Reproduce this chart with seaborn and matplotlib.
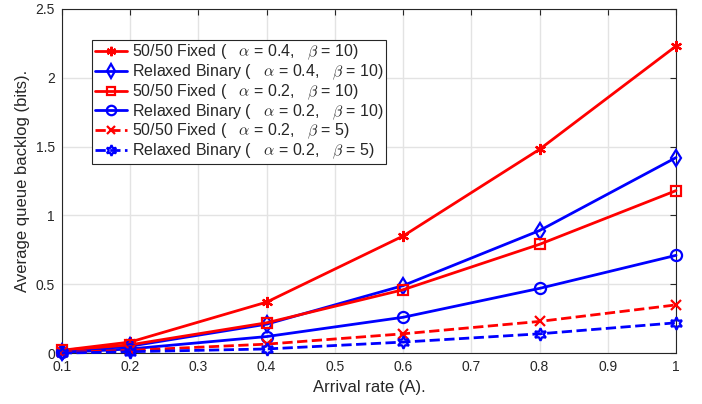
import matplotlib
matplotlib.use('Agg')
import matplotlib.pyplot as plt
import seaborn as sns

arrival = [0.1, 0.2, 0.4, 0.6, 0.8, 1.0]

fixed_a04_b10 = [0.02, 0.08, 0.37, 0.85, 1.48, 2.23]
relaxed_a04_b10 = [0.01, 0.05, 0.21, 0.49, 0.89, 1.42]
fixed_a02_b10 = [0.02, 0.06, 0.22, 0.46, 0.79, 1.18]
relaxed_a02_b10 = [0.005, 0.03, 0.12, 0.26, 0.47, 0.71]
fixed_a02_b5 = [0.005, 0.02, 0.065, 0.14, 0.23, 0.35]
relaxed_a02_b5 = [0.0, 0.01, 0.03, 0.08, 0.14, 0.22]

labels = [
    r'50/50 Fixed (   $\alpha$ = 0.4,   $\beta$ = 10)',
    r'Relaxed Binary (   $\alpha$ = 0.4,   $\beta$ = 10)',
    r'50/50 Fixed (   $\alpha$ = 0.2,   $\beta$ = 10)',
    r'Relaxed Binary (   $\alpha$ = 0.2,   $\beta$ = 10)',
    r'50/50 Fixed (   $\alpha$ = 0.2,   $\beta$ = 5)',
    r'Relaxed Binary (   $\alpha$ = 0.2,   $\beta$ = 5)',
]

sns.set_style('whitegrid')
plt.rcParams['font.family'] = ['Liberation Sans', 'DejaVu Sans']
plt.rcParams['mathtext.fontset'] = 'cm'

fig = plt.figure(figsize=(7.02, 4.04), dpi=100)
ax = fig.add_axes([0.088, 0.126, 0.875, 0.852])

series = [fixed_a04_b10, relaxed_a04_b10, fixed_a02_b10,
          relaxed_a02_b10, fixed_a02_b5, relaxed_a02_b5]
colors = ['red', 'blue', 'red', 'blue', 'red', 'blue']
markers = [(6, 2, 0), 'd', 's', 'o', 'x', (6, 1, 0)]
msizes = [8, 8, 7, 8, 7, 9]
styles = ['-', '-', '-', '-', '--', '--']

for y, c, m, ms, ls, lab in zip(series, colors, markers, msizes, styles, labels):
    sns.lineplot(x=arrival, y=y, color=c, marker=m, markersize=ms,
                 markerfacecolor='none', markeredgecolor=c, markeredgewidth=1.6,
                 linestyle=ls, linewidth=2, label=lab, ax=ax, clip_on=False,
                 zorder=3)

ax.set_xlim(0.1, 1.0)
ax.set_ylim(0, 2.5)
ax.set_xticks([0.1, 0.2, 0.3, 0.4, 0.5, 0.6, 0.7, 0.8, 0.9, 1.0])
ax.set_xticklabels(['0.1', '0.2', '0.3', '0.4', '0.5', '0.6', '0.7', '0.8', '0.9', '1'])
ax.set_yticks([0, 0.5, 1, 1.5, 2, 2.5])
ax.set_yticklabels(['0', '0.5', '1', '1.5', '2', '2.5'])
ax.tick_params(labelsize=10, colors='#262626', direction='in', length=4, pad=5,
               top=True, right=True)
ax.grid(True, color='#e3e3e3', linewidth=1)
for s in ax.spines.values():
    s.set_color('#262626')
    s.set_linewidth(0.8)

ax.set_xlabel('Arrival rate (A).', fontsize=12, color='#262626')
ax.set_ylabel('Average queue backlog (bits).', fontsize=12, color='#262626')

leg = ax.legend(loc='upper left', bbox_to_anchor=(0.049, 0.91), fontsize=11.5,
                frameon=True, fancybox=False, handlelength=2.0, handletextpad=0.3,
                borderpad=0.2, labelspacing=0.02, borderaxespad=0, markerscale=0.85)
leg.get_frame().set_edgecolor('#262626')
leg.get_frame().set_linewidth(0.8)
leg.get_frame().set_alpha(1)

fig.savefig('out.png', dpi=100)
